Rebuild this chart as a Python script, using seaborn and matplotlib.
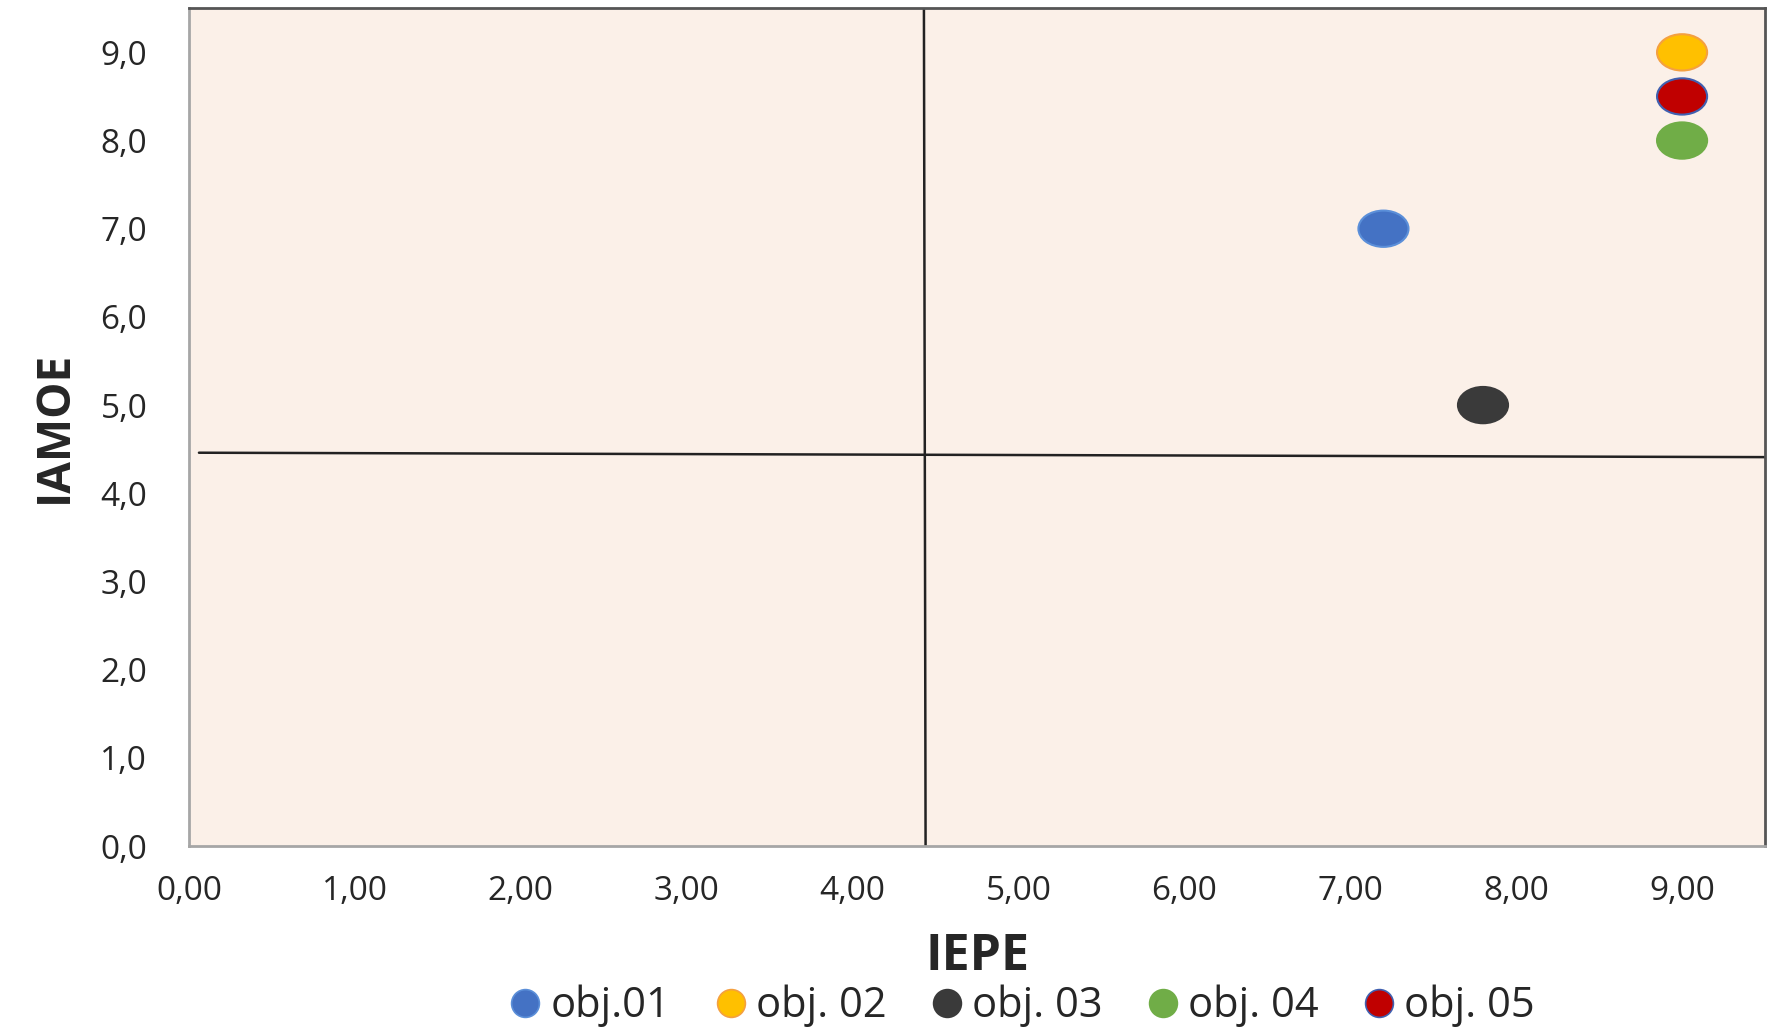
import numpy as np
import pandas as pd
import matplotlib
matplotlib.use('Agg')
import matplotlib.pyplot as plt
from matplotlib.path import Path
from matplotlib.markers import MarkerStyle
from matplotlib.transforms import Affine2D
from matplotlib.lines import Line2D
import seaborn as sns

# data
labels = ['obj.01', 'obj. 02', 'obj. 03', 'obj. 04', 'obj. 05']
iepe = [7.2, 9.0, 7.8, 9.0, 9.0]
iamoe = [7.0, 9.0, 5.0, 8.0, 8.5]
fill_colors = ['#4472C4', '#FFC000', '#3A3A3A', '#70AD47', '#C00000']
edge_colors = ['#5B8FD9', '#F4A040', '#3A3A3A', '#70AD47', '#4060B0']

# quadrant split lines (slightly tilted in the original)
vline_x = [4.43, 4.44]
vline_y = [9.5, 0.0]
hline_x = [0.06, 9.5]
hline_y = [4.46, 4.41]

x_ticks = [0, 1, 2, 3, 4, 5, 6, 7, 8, 9]
y_ticks = [0, 1, 2, 3, 4, 5, 6, 7, 8, 9]

df = pd.DataFrame({'IEPE': iepe, 'IAMOE': iamoe, 'obj': labels})

sns.set_style('white')
plt.rcParams['font.family'] = ['Open Sans', 'DejaVu Sans']

fig = plt.figure(figsize=(17.73, 10.33), dpi=100)
ax = fig.add_axes([0.1066, 0.181, 0.8889, 0.811])
ax.set_facecolor('#FBF0E8')

# markers are wide ellipses in the original
ellipse = Path.unit_circle().transformed(Affine2D().scale(1.38, 1.0))
marker = MarkerStyle(ellipse)

sns.scatterplot(data=df, x='IEPE', y='IAMOE', hue='obj', palette=fill_colors,
                marker=marker, s=1300, edgecolor=edge_colors, linewidth=1.5,
                legend=False, ax=ax, zorder=3)

ax.plot(vline_x, vline_y, color='#222222', lw=1.8, zorder=2)
ax.plot(hline_x, hline_y, color='#222222', lw=1.8, zorder=2)

ax.set_xlim(0, 9.5)
ax.set_ylim(0, 9.5)
ax.set_xticks(x_ticks)
ax.set_yticks(y_ticks)
ax.set_xticklabels([f'{v:.2f}'.replace('.', ',') for v in x_ticks])
ax.set_yticklabels([f'{v:.1f}'.replace('.', ',') for v in y_ticks])
ax.tick_params(axis='both', length=0, labelsize=24, colors='#262626')
ax.tick_params(axis='x', pad=21)
ax.tick_params(axis='y', pad=30)

ax.set_xlabel('IEPE', fontsize=36, fontweight='bold', labelpad=17)
ax.set_ylabel('IAMOE', fontsize=33, fontweight='bold', labelpad=16)

for side in ['left', 'bottom']:
    ax.spines[side].set_color('#A6A6A6')
    ax.spines[side].set_linewidth(2)
for side in ['top', 'right']:
    ax.spines[side].set_color('#555555')
    ax.spines[side].set_linewidth(2)

handles = [Line2D([], [], linestyle='none', marker='o', markersize=20,
                  markerfacecolor=fc, markeredgecolor=ec, markeredgewidth=1.2)
           for fc, ec in zip(fill_colors, edge_colors)]
fig.legend(handles, labels, loc='center', bbox_to_anchor=(0.575, 0.026),
           ncol=5, frameon=False, fontsize=30, handletextpad=0.1,
           columnspacing=0.95, handlelength=1.0, borderpad=0.1)

fig.savefig('out.png', dpi=100)
